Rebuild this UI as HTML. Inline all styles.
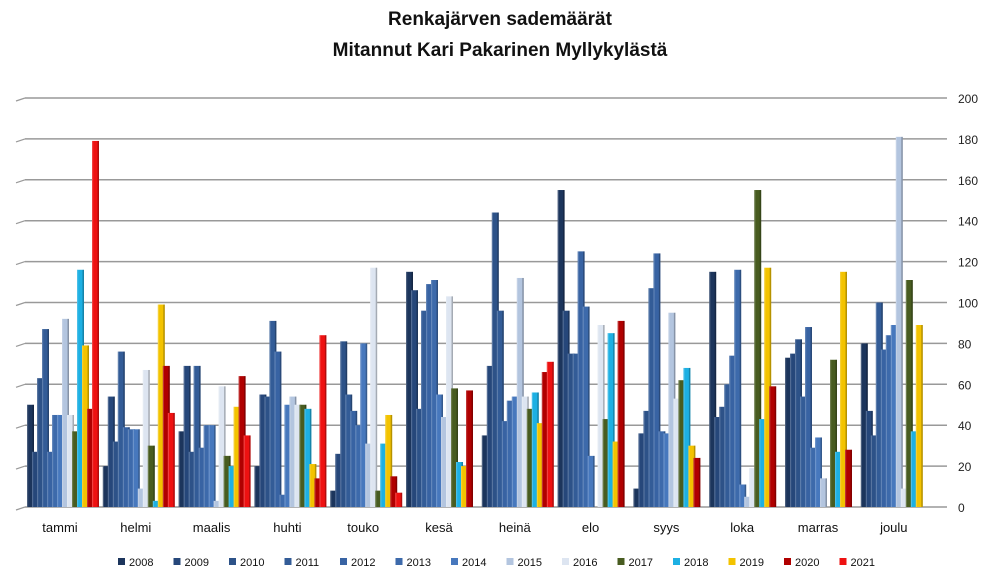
<!DOCTYPE html>
<html><head><meta charset="utf-8"><style>
body{margin:0;background:#fff;width:1000px;height:581px;overflow:hidden;font-family:"Liberation Sans",sans-serif}
</style></head><body>
<svg id="s" width="1000" height="581" xmlns="http://www.w3.org/2000/svg">
<text x="500" y="25" text-anchor="middle" font-size="19" font-weight="bold" fill="#111">Renkajärven sademäärät</text>
<text x="500" y="56" text-anchor="middle" font-size="19" font-weight="bold" fill="#111">Mitannut Kari Pakarinen Myllykylästä</text>
</svg>
<script>
const s=document.getElementById('s'),NS='http://www.w3.org/2000/svg';
function el(t,a,txt){const e=document.createElementNS(NS,t);for(const k in a)e.setAttribute(k,a[k]);if(txt!=null)e.textContent=txt;s.appendChild(e);return e;}
const y0=507,py=2.045;
for(let v=0;v<=200;v+=20){const y=y0-v*py;
 el('line',{x1:25,y1:y,x2:947,y2:y,stroke:'#999','stroke-width':1.5});
 el('line',{x1:16,y1:y+3,x2:25,y2:y,stroke:'#999','stroke-width':1.2});
 el('text',{x:958,y:y+5,'font-size':12,fill:'#222'},String(v));}
const cols=['#1c355c','#26477a','#2d5288','#335c97','#3863a3','#3d6aab','#4778bd','#b3c5df','#dde5f1','#485c20','#1db0e3','#f3c300','#b00000','#ee1111'];
const yrs=[2008,2009,2010,2011,2012,2013,2014,2015,2016,2017,2018,2019,2020,2021];
const months=['tammi','helmi','maalis','huhti','touko','kesä','heinä','elo','syys','loka','marras','joulu'];
const d=[
[50,27,63,87,27,45,45,92,45,37,116,79,48,179],
[20,54,32,76,39,38,38,9,67,30,3,99,69,46],
[37,69,27,69,29,40,40,3,59,25,20,49,64,35],
[20,55,54,91,76,6,50,54,50,50,48,21,14,84],
[8,26,81,55,47,40,80,31,117,8,31,45,15,7],
[115,106,48,96,109,111,55,44,103,58,22,20,57,0],
[35,69,144,96,42,52,54,112,54,48,56,41,66,71],
[155,96,75,75,125,98,25,0,89,43,85,32,91,0],
[9,36,47,107,124,37,36,95,53,62,68,30,24,0],
[115,44,49,60,74,116,11,5,19,155,43,117,59,0],
[73,75,82,54,88,29,34,14,0,72,27,115,28,0],
[80,47,35,100,77,84,89,181,9,111,37,89,0,0]];
for(let m=0;m<12;m++){const gx=27+m*75.8;
 for(let i=0;i<14;i++){const v=d[m][i];if(!v)continue;const x=gx+i*5,h=v*py,y=y0-h;
  el('rect',{x:x,y:y,width:7,height:h,fill:cols[i]});
  el('rect',{x:x+5.5,y:y,width:1.5,height:h,fill:'#000',opacity:.25});
  el('rect',{x:x,y:y,width:1.2,height:h,fill:'#fff',opacity:.2});}
 el('text',{x:gx+33,y:532,'text-anchor':'middle','font-size':13,fill:'#111'},months[m]);}
for(let i=0;i<14;i++){const x=118+i*55.5;
 el('rect',{x:x,y:558,width:7,height:7,fill:cols[i]});
 el('text',{x:x+11,y:566,'font-size':11,fill:'#111'},String(yrs[i]));}
</script>
</body></html>
